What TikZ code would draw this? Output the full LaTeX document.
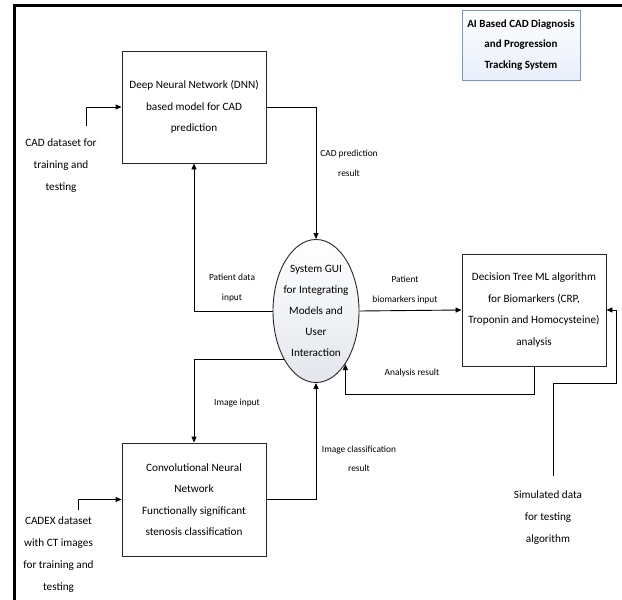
\documentclass[tikz,border=0pt]{standalone}
\usepackage{fontspec}
\setmainfont{Carlito}
\usetikzlibrary{arrows.meta,shapes.geometric,shadings}
\definecolor{titleedge}{RGB}{120,150,210}
\definecolor{titlefill}{RGB}{232,238,250}
\definecolor{guifill}{RGB}{228,230,236}
\begin{document}
\begin{tikzpicture}[x=1pt,y=-1pt,
  box/.style={draw=black!85, line width=0.9pt, rectangle, minimum width=144pt, minimum height=112pt, align=center, inner sep=0pt, font=\fontsize{11.2}{21.5}\selectfont},
  lbl/.style={align=center, inner sep=0pt, font=\fontsize{9.4}{19.5}\selectfont},
  side/.style={align=center, inner sep=0pt, font=\fontsize{11.2}{22}\selectfont},
  arr/.style={draw=black, line width=0.9pt, -{Triangle[length=6pt,width=5pt]}},
]
\useasboundingbox (0,0) rectangle (622,600);
% frame
\draw[line width=3pt] (14.5,600) -- (14.5,5.5) -- (622,5.5);

% title
\node[draw=titleedge, line width=0.8pt, top color=white, bottom color=titlefill,
      minimum width=118pt, minimum height=70pt, align=center, inner sep=0pt,
      font=\bfseries\fontsize{11}{20.5}\selectfont] (title) at (521,45)
  {AI Based CAD Diagnosis\\and Progression\\Tracking System};

% main blocks
\node[box] (dnn) at (194,107) {Deep Neural Network (DNN)\\based model for CAD\\prediction};
\node[box, minimum height=113pt] (cnn) at (194,499.5) {Convolutional Neural\\Network\\Functionally significant\\stenosis classification};
\node[box] (dt) at (534,310) {Decision Tree ML algorithm\\for Biomarkers (CRP,\\Troponin and Homocysteine)\\analysis};
\node[ellipse, draw=black!85, line width=0.9pt, top color=white, bottom color=guifill,
      minimum width=86pt, minimum height=143pt, inner xsep=-3pt, inner ysep=0pt,
      align=center, font=\fontsize{11.2}{21}\selectfont] (gui) at (316,311)
  {System GUI\\for Integrating\\Models and\\User\\Interaction};

% side labels
\node[side] (cadlbl) at (61,166) {CAD dataset for\\training and\\testing};
\node[side] (cadexlbl) at (58.5,555) {CADEX dataset\\with CT images\\for training and\\testing};
\node[side] (simlbl) at (548,518) {Simulated data\\for testing\\algorithm};

% free ends
\coordinate (c1) at (86,126);
\coordinate (c2) at (78,510);
\coordinate (s1) at (553,476);
\coordinate (s2) at (616,383);

% connectors
\draw[arr] (c1) |- (dnn.west);
\draw[arr] (c2) |- (cnn.west);
\draw[arr] (dnn.east) -| (gui.north);
\draw[arr] (gui.west) -| (dnn.south);
\draw[arr] (gui.236) -| (cnn.north);
\draw[arr] (cnn.east) -| (gui.south);
\draw[arr] (gui.east) -- (dt.west);
\draw[arr] (dt.south) -- ++(0,28) -| (gui.-61);
\draw[arr] (s1) |- (s2) |- (dt.east);

% connector labels
\node[lbl] (l1) at (349,163.5) {CAD prediction\\result};
\node[lbl] (l2) at (232,288) {Patient data\\input};
\node[lbl] (l3) at (405,290) {Patient\\biomarkers input};
\node[lbl] (l4) at (412,373) {Analysis result};
\node[lbl] (l5) at (237,403) {Image input};
\node[lbl] (l6) at (359,459) {Image classification\\result};
\end{tikzpicture}
\end{document}
